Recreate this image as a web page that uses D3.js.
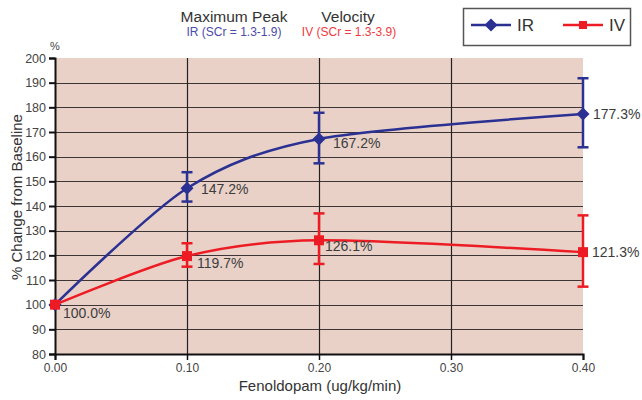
<!DOCTYPE html>
<html>
<head>
<meta charset="utf-8">
<script src="https://cdn.jsdelivr.net/npm/d3@7"></script>
<style>
  body { margin: 0; background: #fff; }
  svg text { font-family: "Liberation Sans", Arial, sans-serif; }
</style>
</head>
<body>
<svg id="chart" width="642" height="400"></svg>
<script>
// Chart data
var doses = [0.00, 0.10, 0.20, 0.40];
var xTicks = [0.00, 0.10, 0.20, 0.30, 0.40];
var yTicks = [80, 90, 100, 110, 120, 130, 140, 150, 160, 170, 180, 190, 200];

var irValues = [100.0, 147.2, 167.2, 177.3];
var irLow = [100.0, 141.8, 157.3, 163.8];
var irHigh = [100.0, 153.7, 177.8, 191.8];

var ivValues = [100.0, 119.7, 126.1, 121.3];
var ivLow = [100.0, 115.4, 116.5, 107.3];
var ivHigh = [100.0, 124.9, 137.0, 136.2];

var seriesNames = ["IR", "IV"];

const svg = d3.select("#chart");
const margin = { left: 55, right: 59, top: 58, bottom: 46 };
const width = 642 - margin.left - margin.right,
    height = 400 - margin.top - margin.bottom;

const blue = "#2b3192", red = "#ed1c24";

var x = d3.scaleLinear().domain([0, 0.4]).range([0, width]);
var y = d3.scaleLinear().domain([80, 200]).range([height, 0]);

const g = svg.append("g").attr("transform", `translate(${margin.left},${margin.top})`);

// background
g.append("rect")
    .attr("width", width).attr("height", height)
    .attr("fill", "#e9d1c8");

// horizontal gridlines
g.selectAll("line.hgrid")
    .data(yTicks.filter(v => v > 80 && v < 200))
    .enter().append("line")
    .attr("class", "hgrid")
    .attr("x1", 0).attr("x2", width)
    .attr("y1", d => Math.round(y(d)) + 0.5).attr("y2", d => Math.round(y(d)) + 0.5)
    .attr("stroke", "#3e3636").attr("stroke-width", 1.2);

// vertical gridlines
g.selectAll("line.vgrid")
    .data(xTicks.filter(v => v > 0 && v < 0.4))
    .enter().append("line")
    .attr("class", "vgrid")
    .attr("y1", 0).attr("y2", height)
    .attr("x1", d => Math.round(x(d)) + 0.5).attr("x2", d => Math.round(x(d)) + 0.5)
    .attr("stroke", "#222").attr("stroke-width", 1.2);

// axes
var yAxis = d3.axisLeft(y).tickValues(yTicks).tickSize(6).tickFormat(d3.format("d"));
var xAxis = d3.axisBottom(x).tickValues(xTicks).tickSize(6).tickPadding(3).tickFormat(d3.format(".2f"));

g.append("g").call(yAxis)
    .call(a => a.select(".domain").attr("stroke", "#111").attr("stroke-width", 2))
    .call(a => a.selectAll(".tick line").attr("stroke", "#111").attr("stroke-width", 2))
    .call(a => a.selectAll(".tick text").attr("fill", "#444").style("font-size", "12.5px").attr("x", -9));

g.append("g").attr("transform", `translate(0,${height})`).call(xAxis)
    .call(a => a.select(".domain").attr("stroke", "#111").attr("stroke-width", 2))
    .call(a => a.selectAll(".tick line").attr("stroke", "#111").attr("stroke-width", 1.5))
    .call(a => a.selectAll(".tick text").attr("fill", "#444").style("font-size", "12px"));

// axis titles
svg.append("text")
    .attr("transform", "translate(22,197) rotate(-90)")
    .attr("text-anchor", "middle")
    .attr("fill", "#333").style("font-size", "15px")
    .text("% Change from Baseline");

svg.append("text")
    .attr("x", 320).attr("y", 391)
    .attr("text-anchor", "middle")
    .attr("fill", "#333").style("font-size", "15px")
    .text("Fenoldopam (ug/kg/min)");

svg.append("text")
    .attr("x", 50).attr("y", 50)
    .attr("fill", "#444").style("font-size", "11px")
    .text("%");

// title
svg.append("text").attr("x", 234).attr("y", 22).attr("text-anchor", "middle")
    .attr("fill", "#333").style("font-size", "15.5px").text("Maximum Peak");
svg.append("text").attr("x", 348).attr("y", 22).attr("text-anchor", "middle")
    .attr("fill", "#333").style("font-size", "15.5px").text("Velocity");
svg.append("text").attr("x", 234).attr("y", 36).attr("text-anchor", "middle")
    .attr("fill", "#4b4bab").style("font-size", "12px").text("IR (SCr = 1.3-1.9)");
svg.append("text").attr("x", 349).attr("y", 36).attr("text-anchor", "middle")
    .attr("fill", "#ef3a3f").style("font-size", "12px").text("IV (SCr = 1.3-3.9)");

// series
var series = [
    { name: seriesNames[0], values: irValues, low: irLow, high: irHigh, color: blue, marker: "diamond",
      labelOffsets: [[8, 13], [14, 6], [14, 9], [10, 5]] },
    { name: seriesNames[1], values: ivValues, low: ivLow, high: ivHigh, color: red, marker: "square",
      labelOffsets: [null, [10, 12], [6, 11], [9, 5]] }
];

var line = d3.line()
    .x((d, i) => x(doses[i]))
    .y(d => y(d))
    .curve(d3.curveCardinal.tension(0.15));

function drawMarker(sel, type, color, cx, cy, s) {
    if (type === "diamond") {
        sel.append("path")
            .attr("d", `M${cx},${cy - s}L${cx + s},${cy}L${cx},${cy + s}L${cx - s},${cy}Z`)
            .attr("fill", color);
    } else {
        sel.append("rect")
            .attr("x", cx - s).attr("y", cy - s)
            .attr("width", 2 * s).attr("height", 2 * s)
            .attr("fill", color);
    }
}

series.forEach(function (s) {
    var sg = g.append("g").attr("class", "series-" + s.name);

    sg.append("path")
        .datum(s.values)
        .attr("d", line)
        .attr("fill", "none")
        .attr("stroke", s.color)
        .attr("stroke-width", 2.5);

    // error bars
    doses.forEach(function (d, i) {
        if (s.high[i] === s.low[i]) return;
        var cx = x(d);
        sg.append("line")
            .attr("x1", cx).attr("x2", cx)
            .attr("y1", y(s.low[i])).attr("y2", y(s.high[i]))
            .attr("stroke", s.color).attr("stroke-width", 2.5);
        [s.low[i], s.high[i]].forEach(function (v) {
            sg.append("line")
                .attr("x1", cx - 5.5).attr("x2", cx + 5.5)
                .attr("y1", y(v)).attr("y2", y(v))
                .attr("stroke", s.color).attr("stroke-width", 2.5);
        });
    });

    doses.forEach(function (d, i) {
        drawMarker(sg, s.marker, s.color, x(d), y(s.values[i]), s.marker === "diamond" ? 6.5 : 5);
    });

    doses.forEach(function (d, i) {
        var off = s.labelOffsets[i];
        if (!off) return;
        sg.append("text")
            .attr("x", x(d) + off[0]).attr("y", y(s.values[i]) + off[1])
            .attr("fill", "#3c3c3c").style("font-size", "14px")
            .text(s.values[i].toFixed(1) + "%");
    });
});

// legend
var legend = svg.append("g");
legend.append("rect")
    .attr("x", 463.5).attr("y", 8.5).attr("width", 167).attr("height", 37)
    .attr("fill", "#fff").attr("stroke", "#555").attr("stroke-width", 1.5);

[{ s: series[0], x0: 471 }, { s: series[1], x0: 563 }].forEach(function (l) {
    legend.append("line")
        .attr("x1", l.x0).attr("x2", l.x0 + 40)
        .attr("y1", 25).attr("y2", 25)
        .attr("stroke", l.s.color).attr("stroke-width", 2.5);
    drawMarker(legend, l.s.marker, l.s.color, l.x0 + 20, 25, l.s.marker === "diamond" ? 6.5 : 4);
    legend.append("text")
        .attr("x", l.x0 + 46).attr("y", 31)
        .attr("fill", "#333").style("font-size", "17px")
        .text(l.s.name);
});
</script>
</body>
</html>
